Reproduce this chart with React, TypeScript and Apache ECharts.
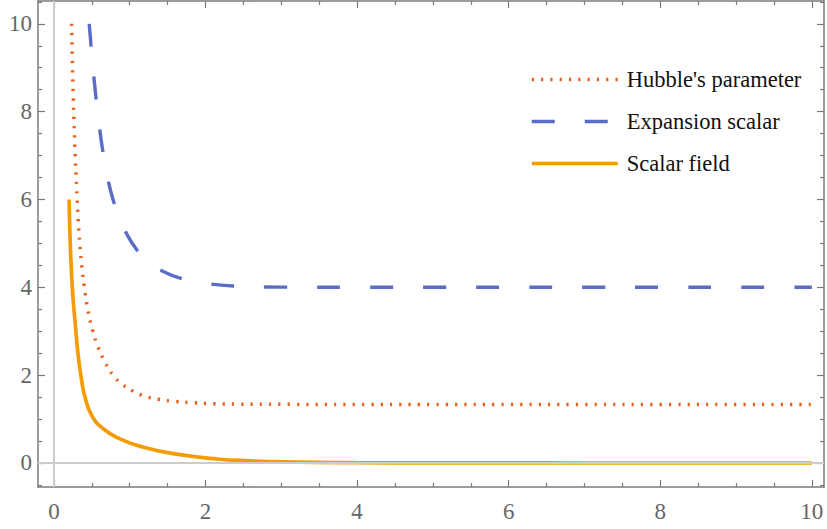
import React, { useEffect, useRef } from "react";
import * as echarts from "echarts";

// ---- data ----
const seriesNames = ["Hubble's parameter", "Expansion scalar", "Scalar field"];

const hubbleX = [0.233, 0.255, 0.277, 0.3, 0.32, 0.343, 0.37, 0.4, 0.45, 0.51, 0.58, 0.68, 0.78, 0.91, 1.05, 1.2, 1.38, 1.6, 1.85, 2.1, 2.45, 3, 4, 5, 6, 7, 8, 9, 10];
const hubbleY = [10, 8.35, 7.2, 6.25, 5.55, 4.95, 4.45, 4.02, 3.47, 3.03, 2.65, 2.28, 2.0, 1.78, 1.63, 1.52, 1.45, 1.4, 1.37, 1.35, 1.34, 1.335, 1.333, 1.333, 1.333, 1.333, 1.333, 1.333, 1.333];

const expansionX = [0.466, 0.5, 0.55, 0.6, 0.65, 0.72, 0.78, 0.86, 0.95, 1.1, 1.25, 1.42, 1.7, 2.0, 2.39, 3, 4, 5, 6, 7, 8, 9, 10];
const expansionY = [10, 9.3, 8.4, 7.66, 7.05, 6.4, 6.0, 5.6, 5.25, 4.84, 4.58, 4.38, 4.19, 4.09, 4.03, 4.005, 4, 4, 4, 4, 4, 4, 4];

const scalarX = [0.2, 0.21, 0.225, 0.25, 0.28, 0.32, 0.365, 0.41, 0.5, 0.65, 0.87, 1.18, 1.62, 2.15, 2.59, 3.03, 4, 5, 6, 7, 8, 9, 10];
const scalarY = [6.0, 5.3, 4.6, 3.8, 3.2, 2.45, 1.89, 1.5, 1.08, 0.78, 0.55, 0.36, 0.2, 0.09, 0.048, 0.024, 0.007, 0.002, 0.001, 0, 0, 0, 0];

const xMajorTicks = [0, 2, 4, 6, 8, 10];
const xMinorTicks = [0.5, 1, 1.5, 2.5, 3, 3.5, 4.5, 5, 5.5, 6.5, 7, 7.5, 8.5, 9, 9.5];
const yMajorTicks = [0, 2, 4, 6, 8, 10];
const yMinorTicks = [-0.5, 0.5, 1, 1.5, 2.5, 3, 3.5, 4.5, 5, 5.5, 6.5, 7, 7.5, 8.5, 9, 9.5, 10.5];

const X_MIN = -0.21;
const X_MAX = 10.16;
const Y_MIN = -0.547;
const Y_MAX = 10.52;

const FRAME = "#7a7a7a";
const LABEL = "#666666";
const FONT = "Liberation Serif, DejaVu Serif, serif";

function pairs(xs: number[], ys: number[]) {
  return xs.map((x, i) => [x, ys[i]]);
}

function frameAxis(kind: "x" | "y", position: string, ticks: number[], len: number, showLine: boolean, labels: boolean) {
  const isX = kind === "x";
  return {
    type: "value",
    position,
    min: isX ? X_MIN : Y_MIN,
    max: isX ? X_MAX : Y_MAX,
    axisLine: { show: showLine, onZero: false, lineStyle: { color: FRAME, width: 1.5 } },
    axisTick: { show: true, inside: true, length: len, customValues: ticks, lineStyle: { color: FRAME, width: 1.2 } },
    axisLabel: labels
      ? {
          show: true,
          customValues: ticks,
          fontFamily: FONT,
          fontSize: 23,
          color: LABEL,
          margin: isX ? 13 : 6,
        }
      : { show: false },
    splitLine: { show: false },
  };
}

export default function App() {
  const ref = useRef<HTMLDivElement>(null);

  useEffect(() => {
    if (!ref.current) return;
    const chart = echarts.init(ref.current, undefined, { renderer: "svg" });
    chart.setOption({
      animation: false,
      backgroundColor: "#ffffff",
      grid: { left: 38, right: 3, top: 1, bottom: 42, containLabel: false },
      legend: {
        orient: "vertical",
        left: 525,
        top: 63,
        itemWidth: 86,
        itemHeight: 24,
        itemGap: 19,
        data: seriesNames,
        lineStyle: { width: 3.5 },
        itemStyle: { opacity: 0 },
        textStyle: { fontFamily: FONT, fontSize: 22.5, color: "#111", padding: [0, 0, 0, 4] },
      },
      xAxis: [
        frameAxis("x", "bottom", xMajorTicks, 7, true, true),
        frameAxis("x", "bottom", xMinorTicks, 4, false, false),
        frameAxis("x", "top", xMajorTicks, 7, true, false),
        frameAxis("x", "top", xMinorTicks, 4, false, false),
      ],
      yAxis: [
        frameAxis("y", "left", yMajorTicks, 7, true, true),
        frameAxis("y", "left", yMinorTicks, 4, false, false),
        frameAxis("y", "right", yMajorTicks, 7, true, false),
        frameAxis("y", "right", yMinorTicks, 4, false, false),
      ],
      series: [
        {
          name: "axes",
          type: "line",
          data: [],
          silent: true,
          z: 1,
          markLine: {
            silent: true,
            symbol: "none",
            label: { show: false },
            lineStyle: { color: "#cccccc", width: 2, type: "solid" },
            data: [{ xAxis: 0 }, { yAxis: 0 }],
          },
        },
        {
          name: seriesNames[2],
          type: "line",
          data: pairs(scalarX, scalarY),
          showSymbol: false,
          symbol: "none",
          smooth: 0.5,
          z: 3,
          lineStyle: { color: "#f39c07", width: 3.7, type: "solid" },
          itemStyle: { color: "#f39c07" },
        },
        {
          name: seriesNames[1],
          type: "line",
          data: pairs(expansionX, expansionY),
          showSymbol: false,
          symbol: "none",
          smooth: 0.5,
          z: 3,
          lineStyle: { color: "#5b6cc6", width: 3.4, type: [23, 30], cap: "butt" },
          itemStyle: { color: "#5b6cc6" },
        },
        {
          name: seriesNames[0],
          type: "line",
          data: pairs(hubbleX, hubbleY),
          showSymbol: false,
          symbol: "none",
          smooth: 0.5,
          z: 4,
          lineStyle: { color: "#e8601a", width: 3.5, type: [2.2, 7.1], cap: "butt" },
          itemStyle: { color: "#e8601a" },
        },
      ],
    });
    return () => chart.dispose();
  }, []);

  return (
    <div
      ref={ref}
      style={{ position: "absolute", left: 0, top: 0, width: 827, height: 529, background: "#fff" }}
    />
  );
}
